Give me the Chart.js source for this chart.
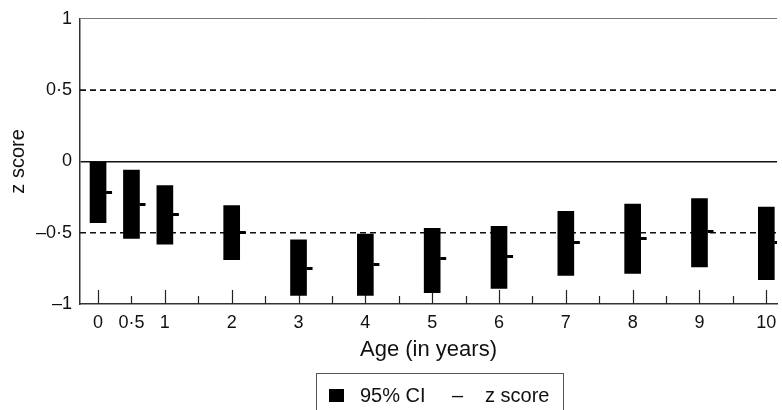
<!DOCTYPE html>
<html lang="en">
<head>
  <meta charset="UTF-8" />
  <title>z score by age</title>
  <script src="https://cdn.jsdelivr.net/npm/chart.js"></script>
  <style>
    body {
      margin: 0;
      background: #fff;
      font-family: "Liberation Sans", Arial, sans-serif;
      color: #111;
    }
    .wrap {
      position: relative;
      width: 782px;
      height: 410px;
      overflow: hidden;
    }
    .legend {
      position: absolute;
      left: 316px;
      top: 373px;
      width: 246px;
      height: 44px;
      border: 1px solid #555;
      font-size: 20px;
    }
    .legend span {
      position: absolute;
      top: 9px;
      line-height: 24px;
    }
    .legend .sq {
      top: 15px;
      width: 15px;
      height: 13px;
      background: #000;
    }
  </style>
</head>
<body>
  <div class="wrap">
    <canvas id="zChart" width="782" height="410"></canvas>
    <div class="legend">
      <span class="sq" style="left: 12px;"></span>
      <span style="left: 43px;">95% CI</span>
      <span style="left: 135px;">–</span>
      <span style="left: 168px;">z score</span>
    </div>
  </div>

  <script>
    // ages (years) and values
    const ages = [0, 0.5, 1, 2, 3, 4, 5, 6, 7, 8, 9, 10];
    const ageLabels = ["0", "0·5", "1", "2", "3", "4", "5", "6", "7", "8", "9", "10"];
    const ciLow = [-0.43, -0.54, -0.58, -0.69, -0.94, -0.94, -0.92, -0.89, -0.80, -0.785, -0.74, -0.83];
    const ciHigh = [0, -0.06, -0.17, -0.31, -0.55, -0.51, -0.47, -0.455, -0.35, -0.30, -0.26, -0.32];
    const zScore = [-0.22, -0.30, -0.375, -0.50, -0.75, -0.725, -0.68, -0.67, -0.57, -0.54, -0.49, -0.57];

    const xTickMarks = [0, 0.5, 1, 1.5, 2, 2.5, 3, 3.5, 4, 4.5, 5, 5.5, 6, 6.5, 7, 7.5, 8, 8.5, 9, 9.5, 10];
    const yTicks = [-1, -0.5, 0, 0.5, 1];
    const yTickLabels = ["–1", "–0·5", "0", "0·5", "1"];
    const refLines = [0.5, -0.5];

    const xMin = -0.27, xMax = 10.16;
    const font = "'Liberation Sans', Arial, sans-serif";

    // little dash to the right of each bar
    const dash = document.createElement("canvas");
    dash.width = 30;
    dash.height = 3;
    const dctx = dash.getContext("2d");
    dctx.fillStyle = "#000";
    dctx.fillRect(23, 0, 6, 3);

    const tickMarks = {
      id: "tickMarks",
      beforeDatasetsDraw(chart) {
        const { ctx, chartArea, scales: { x } } = chart;
        ctx.save();
        ctx.strokeStyle = "#222";
        ctx.lineWidth = 1.2;
        xTickMarks.forEach(v => {
          const px = Math.round(x.getPixelForValue(v)) + 0.5;
          const len = Number.isInteger(v) ? 14 : 8;
          ctx.beginPath();
          ctx.moveTo(px, chartArea.bottom);
          ctx.lineTo(px, chartArea.bottom - len);
          ctx.stroke();
        });
        ctx.restore();
      }
    };

    const datasets = [
      {
        type: "bar",
        label: "95% CI",
        data: ages.map((a, i) => ({ x: a, y: [ciLow[i], ciHigh[i]] })),
        backgroundColor: "#000",
        barThickness: 16,
        order: 2
      },
      {
        type: "line",
        label: "z score",
        data: ages.map((a, i) => ({ x: a, y: zScore[i] })),
        showLine: false,
        pointStyle: dash,
        order: 1
      }
    ];
    refLines.forEach(v => {
      datasets.push({
        type: "line",
        label: "ref " + v,
        data: [{ x: xMin, y: v }, { x: xMax, y: v }],
        borderColor: "#111",
        borderWidth: 1.6,
        borderDash: [6, 4],
        pointRadius: 0,
        order: 3
      });
    });

    new Chart(document.getElementById("zChart"), {
      type: "bar",
      data: { datasets },
      plugins: [tickMarks],
      options: {
        responsive: false,
        animation: false,
        layout: { padding: { top: 6, right: 0, bottom: 47, left: 0 } },
        plugins: {
          legend: { display: false },
          tooltip: { enabled: false }
        },
        scales: {
          x: {
            type: "linear",
            min: xMin,
            max: xMax,
            offset: false,
            grid: { display: false, offset: false },
            border: { color: "#333", width: 1.5 },
            afterBuildTicks: s => { s.ticks = xTickMarks.map(v => ({ value: v })); },
            afterFit: s => { s.height = 59; s.paddingLeft = 0; s.paddingRight = 0; },
            ticks: {
              autoSkip: false,
              maxRotation: 0,
              padding: 0,
              color: "#111",
              font: { family: font, size: 18 },
              callback: v => {
                const i = ages.indexOf(v);
                return i >= 0 ? ageLabels[i] : "";
              }
            },
            title: {
              display: true,
              text: "Age (in years)",
              color: "#111",
              padding: { top: 0, bottom: 0 },
              font: { family: font, size: 22 }
            }
          },
          y: {
            min: -1,
            max: 1,
            afterBuildTicks: s => { s.ticks = yTicks.map(v => ({ value: v })); },
            afterFit: s => { s.width = 80; },
            border: { color: "#333", width: 1.5 },
            grid: {
              drawTicks: false,
              color: c => c.tick.value === 0 ? "#111" : c.tick.value === 1 ? "#777" : "rgba(0,0,0,0)",
              lineWidth: c => c.tick.value === 0 ? 1.5 : 1
            },
            ticks: {
              padding: 8,
              color: "#111",
              font: { family: font, size: 18 },
              callback: v => yTickLabels[yTicks.indexOf(v)]
            },
            title: {
              display: true,
              text: "z score",
              color: "#111",
              padding: { top: 6, bottom: 0 },
              font: { family: font, size: 20 }
            }
          }
        }
      }
    });
  </script>
</body>
</html>
